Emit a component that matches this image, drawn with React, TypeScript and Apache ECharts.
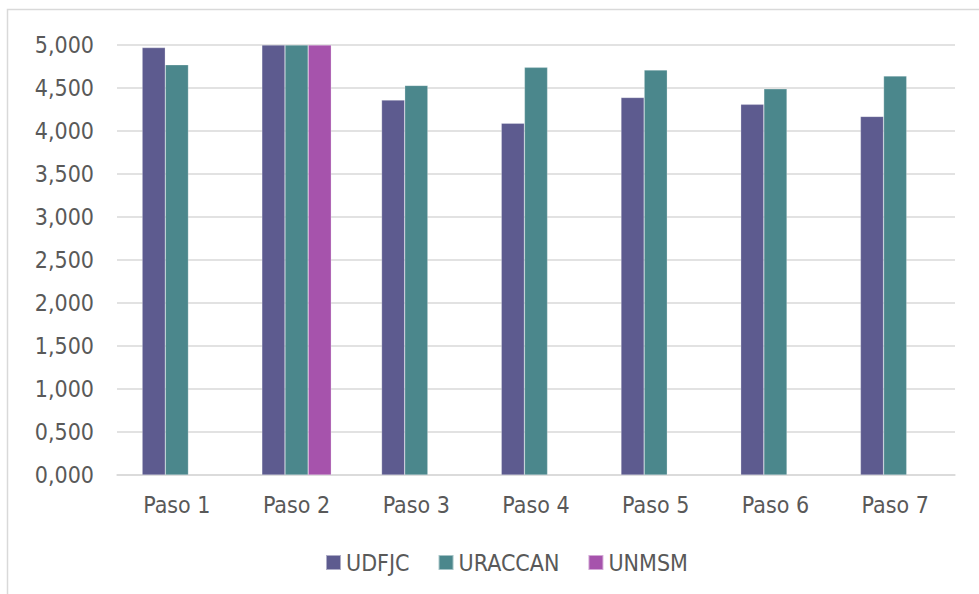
import React, { useEffect, useRef } from "react";
import * as echarts from "echarts";

const categories = ["Paso 1", "Paso 2", "Paso 3", "Paso 4", "Paso 5", "Paso 6", "Paso 7"];
const udfjc = [4.97, 5.0, 4.36, 4.09, 4.39, 4.31, 4.17];
const uraccan = [4.77, 5.0, 4.53, 4.74, 4.71, 4.49, 4.64];
const unmsm = [null, 5.0, null, null, null, null, null];
const seriesNames = ["UDFJC", "URACCAN", "UNMSM"];
const colors = ["#5D5B8F", "#4B878C", "#A653AC"];

export default function App() {
  const ref = useRef<HTMLDivElement>(null);
  useEffect(() => {
    if (!ref.current) return;
    const chart = echarts.init(ref.current, null, { renderer: "svg" });
    const font = "'DejaVu Sans Condensed', 'DejaVu Sans', sans-serif";
    const data = [udfjc, uraccan, unmsm];
    chart.setOption({
      animation: false,
      backgroundColor: "#ffffff",
      textStyle: { fontFamily: font },
      graphic: [
        {
          type: "rect",
          shape: { x: 7.5, y: 9.5, width: 1100, height: 800 },
          style: { fill: "none", stroke: "#d9d9d9", lineWidth: 1.5 },
          silent: true,
        },
      ],
      grid: { left: 117, right: 24, top: 45, bottom: 119, containLabel: false },
      legend: {
        data: seriesNames,
        bottom: 20,
        left: 325,
        padding: 0,
        itemWidth: 15,
        itemHeight: 15,
        itemGap: 28,
        icon: "rect",
        textStyle: { fontFamily: font, fontSize: 23, color: "#595959" },
      },
      xAxis: {
        type: "category",
        data: categories,
        axisLine: { lineStyle: { color: "#d9d9d9", width: 1.5 } },
        axisTick: { show: false },
        axisLabel: { fontFamily: font, fontSize: 23, color: "#595959", margin: 18 },
      },
      yAxis: {
        type: "value",
        min: 0,
        max: 5,
        interval: 0.5,
        axisLine: { show: false },
        axisTick: { show: false },
        splitLine: { lineStyle: { color: "#d9d9d9", width: 1.5 } },
        axisLabel: {
          fontFamily: font,
          fontSize: 23,
          color: "#595959",
          margin: 23,
          formatter: (v: number) => v.toFixed(3).replace(".", ","),
        },
      },
      series: seriesNames.map((name, i) => ({
        name,
        type: "bar",
        data: data[i],
        barGap: "0%",
        barCategoryGap: "42%",
        itemStyle: { color: colors[i], borderColor: "rgba(255,255,255,0.5)", borderWidth: 0.5 },
      })),
    });
    return () => chart.dispose();
  }, []);
  return <div ref={ref} style={{ width: 979, height: 594, position: "absolute", left: 0, top: 0 }} />;
}
